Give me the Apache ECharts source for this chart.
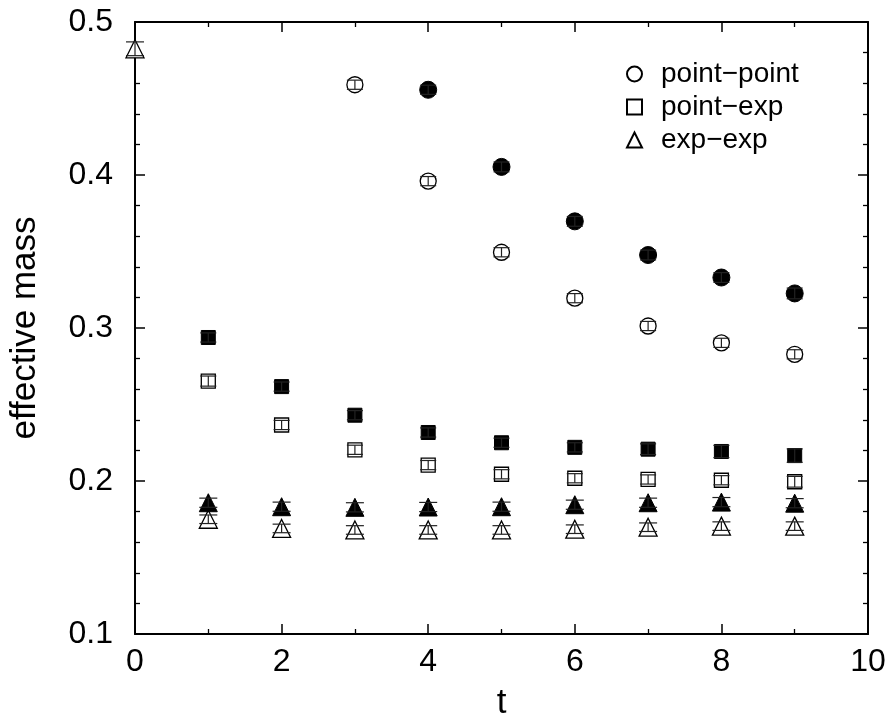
<!DOCTYPE html>
<html>
<head>
<meta charset="utf-8">
<script src="https://cdn.jsdelivr.net/npm/echarts@6/dist/echarts.min.js"></script>
<style>html,body{margin:0;padding:0;background:#fff}#c{width:891px;height:726px}</style>
</head>
<body>
<div id="c"></div>
<script>
// ---- data ----
var tPPOpen   = [3, 4, 5, 6, 7, 8, 9];
var ppOpen    = [0.4590, 0.3960, 0.3495, 0.3195, 0.3013, 0.2903, 0.2828];
var ppOpenErr = [0.0030, 0.0030, 0.0030, 0.0030, 0.0030, 0.0030, 0.0030];

var tPPFilled   = [4, 5, 6, 7, 8, 9];
var ppFilled    = [0.4557, 0.4053, 0.3697, 0.3477, 0.3330, 0.3226];
var ppFilledErr = [0.0030, 0.0032, 0.0032, 0.0032, 0.0032, 0.0035];

var tPE       = [1, 2, 3, 4, 5, 6, 7, 8, 9];
var peOpen    = [0.2653, 0.2366, 0.2204, 0.2104, 0.2044, 0.2018, 0.2010, 0.2005, 0.1995];
var peOpenErr = [0.0033, 0.0030, 0.0030, 0.0030, 0.0030, 0.0030, 0.0030, 0.0030, 0.0035];
var peFilled    = [0.2938, 0.2617, 0.2430, 0.2317, 0.2250, 0.2220, 0.2208, 0.2193, 0.2166];
var peFilledErr = [0.0030, 0.0030, 0.0030, 0.0030, 0.0030, 0.0030, 0.0035, 0.0040, 0.0044];

var tEEOpen   = [0, 1, 2, 3, 4, 5, 6, 7, 8, 9];
var eeOpen    = [0.4825, 0.1750, 0.1690, 0.1680, 0.1680, 0.1680, 0.1685, 0.1698, 0.1705, 0.1705];
var eeOpenErr = [0.0045, 0.0028, 0.0028, 0.0028, 0.0028, 0.0028, 0.0028, 0.0028, 0.0028, 0.0028];
var tEEFilled   = [1, 2, 3, 4, 5, 6, 7, 8, 9];
var eeFilled    = [0.1858, 0.1832, 0.1828, 0.1830, 0.1832, 0.1845, 0.1858, 0.1862, 0.1855];
var eeFilledErr = [0.0030, 0.0030, 0.0030, 0.0030, 0.0030, 0.0030, 0.0030, 0.0030, 0.0030];

var xTicks = [0, 2, 4, 6, 8, 10];
var yTicks = [0.1, 0.2, 0.3, 0.4, 0.5];
var legendNames = ['point\u2212point', 'point\u2212exp', 'exp\u2212exp'];

function pts(ts, vs) { return ts.map(function (t, i) { return [t, vs[i]]; }); }
function errPts(ts, vs, es) { return ts.map(function (t, i) { return [t, vs[i], es[i]]; }); }

var FONT = 'Liberation Sans, Arial, Helvetica, sans-serif';

function errSeries(data, capHalf) {
  return {
    type: 'custom',
    silent: true,
    clip: false,
    z: 10,
    data: data,
    renderItem: function (params, api) {
      var x = api.value(0), y = api.value(1), e = api.value(2);
      var top = api.coord([x, y + e]);
      var bot = api.coord([x, y - e]);
      var st = { stroke: '#222', lineWidth: 1.2 };
      return {
        type: 'group',
        children: [
          { type: 'line', shape: { x1: top[0], y1: top[1], x2: bot[0], y2: bot[1] }, style: st },
          { type: 'line', shape: { x1: top[0] - capHalf, y1: top[1], x2: top[0] + capHalf, y2: top[1] }, style: st },
          { type: 'line', shape: { x1: bot[0] - capHalf, y1: bot[1], x2: bot[0] + capHalf, y2: bot[1] }, style: st }
        ]
      };
    }
  };
}

var openStyle = { color: '#fff', borderColor: '#000', borderWidth: 1.3, opacity: 1 };
var filledStyle = { color: '#000', borderColor: '#000', borderWidth: 1, opacity: 1 };

var axisCommon = {
  axisLine: { show: true, onZero: false, lineStyle: { color: '#000', width: 2 } },
  axisTick: { show: true, inside: true, length: 10, lineStyle: { color: '#000', width: 1.5 } },
  splitLine: { show: false }
};

var chart = echarts.init(document.getElementById('c'), null, { renderer: 'canvas' });
chart.setOption({
  backgroundColor: '#fff',
  animation: false,
  grid: { left: 134, right: 23, top: 22, bottom: 91 },
  legend: {
    orient: 'vertical',
    left: 621,
    top: 55,
    itemWidth: 15,
    itemHeight: 15,
    itemGap: 5,
    selectedMode: false,
    data: [
      { name: legendNames[0], icon: 'circle' },
      { name: legendNames[1], icon: 'rect' },
      { name: legendNames[2], icon: 'triangle' }
    ],
    textStyle: { fontFamily: FONT, fontSize: 28, color: '#000', padding: [0, 0, 0, 14] }
  },
  xAxis: [
    Object.assign({}, axisCommon, {
      type: 'value', min: 0, max: 10, interval: 2, position: 'bottom',
      name: 't', nameLocation: 'middle', nameGap: 52,
      nameTextStyle: { fontFamily: FONT, fontSize: 35, color: '#000' },
      minorTick: { show: true, splitNumber: 2, length: 5, lineStyle: { color: '#000', width: 1.3 } },
      axisLabel: { fontFamily: FONT, fontSize: 32, color: '#000', margin: 12,
        formatter: function (v) { return xTicks.indexOf(v) >= 0 ? String(v) : ''; } }
    }),
    Object.assign({}, axisCommon, {
      type: 'value', min: 0, max: 10, interval: 2, position: 'top',
      minorTick: { show: true, splitNumber: 2, length: 5, lineStyle: { color: '#000', width: 1.3 } },
      axisLabel: { show: false }
    })
  ],
  yAxis: [
    Object.assign({}, axisCommon, {
      type: 'value', min: 0.1, max: 0.5, interval: 0.1, position: 'left',
      name: 'effective mass', nameLocation: 'middle', nameGap: 92, nameRotate: 90,
      nameTextStyle: { fontFamily: FONT, fontSize: 35, color: '#000' },
      minorTick: { show: true, splitNumber: 5, length: 5, lineStyle: { color: '#000', width: 1.3 } },
      axisLabel: { fontFamily: FONT, fontSize: 32, color: '#000', margin: 22,
        formatter: function (v) {
          for (var i = 0; i < yTicks.length; i++) if (Math.abs(yTicks[i] - v) < 1e-9) return yTicks[i].toFixed(1);
          return '';
        } }
    }),
    Object.assign({}, axisCommon, {
      type: 'value', min: 0.1, max: 0.5, interval: 0.1, position: 'right',
      minorTick: { show: true, splitNumber: 5, length: 5, lineStyle: { color: '#000', width: 1.3 } },
      axisLabel: { show: false }
    })
  ],
  series: [
    { name: legendNames[0], type: 'scatter', symbol: 'circle', symbolSize: 16, clip: false, z: 5,
      itemStyle: openStyle, data: pts(tPPOpen, ppOpen) },
    { name: 'pp-filled', type: 'scatter', symbol: 'circle', symbolSize: 17, clip: false, z: 5,
      itemStyle: filledStyle, data: pts(tPPFilled, ppFilled) },
    { name: legendNames[1], type: 'scatter', symbol: 'rect', symbolSize: 14, clip: false, z: 5,
      itemStyle: openStyle, data: pts(tPE, peOpen) },
    { name: 'pe-filled', type: 'scatter', symbol: 'rect', symbolSize: 14, clip: false, z: 5,
      itemStyle: filledStyle, data: pts(tPE, peFilled) },
    { name: legendNames[2], type: 'scatter', symbol: 'triangle', symbolSize: 18, clip: false, z: 5,
      itemStyle: openStyle, data: pts(tEEOpen, eeOpen) },
    { name: 'ee-filled', type: 'scatter', symbol: 'triangle', symbolSize: 18, clip: false, z: 5,
      itemStyle: filledStyle, data: pts(tEEFilled, eeFilled) },
    errSeries(errPts(tPPOpen, ppOpen, ppOpenErr), 8),
    errSeries(errPts(tPPFilled, ppFilled, ppFilledErr), 8),
    errSeries(errPts(tPE, peOpen, peOpenErr), 8),
    errSeries(errPts(tPE, peFilled, peFilledErr), 8),
    errSeries(errPts(tEEOpen, eeOpen, eeOpenErr), 9),
    errSeries(errPts(tEEFilled, eeFilled, eeFilledErr), 9)
  ]
});
</script>
</body>
</html>
